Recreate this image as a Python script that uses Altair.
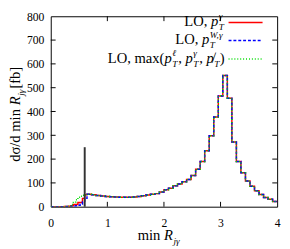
import altair as alt
import pandas as pd

# ---------------- data ----------------
edges_left = [0.00, 0.24, 0.28, 0.32, 0.36, 0.40, 0.44, 0.48, 0.52, 0.56, 0.60]
red_left   = [0, 1, 1, 2, 4, 9, 9, 18, 18, 35, 50]
blue_left  = [0, 0, 1, 1, 2, 3, 4, 6, 10, 20, 35]
green_left = [0, 1, 2, 3, 9, 18, 29, 40, 44, 48, 50]

edges_main = [0.64, 0.72, 0.80, 0.88, 0.96, 1.04, 1.12, 1.20, 1.28, 1.36,
              1.44, 1.52, 1.60, 1.68, 1.76, 1.84, 1.92, 2.00, 2.08, 2.16,
              2.24, 2.32, 2.40, 2.48, 2.56, 2.64, 2.72, 2.80, 2.88, 2.96,
              3.04, 3.12, 3.20, 3.28, 3.36, 3.44, 3.52, 3.60, 3.68, 3.76,
              3.84, 3.92]
main_vals = [52, 50, 47, 45, 43, 42, 41, 40, 40, 40,
             41, 43, 46, 49, 52, 55, 62, 71, 78, 88,
             95, 105, 114, 131, 157, 190, 235, 298, 377, 465,
             551, 456, 272, 190, 143, 108, 86, 67, 51, 39,
             31, 22]
x_end = 4.0

spike_x = [0.6]
spike_top = [250]

x_ticks = [0, 1, 2, 3, 4]
y_ticks = [0, 100, 200, 300, 400, 500, 600, 700, 800]

W, H = 233, 196
FONT = "Liberation Serif"
FS = 15          # text size
SS = 9.5         # sub/superscript size


def series_df(left):
    xs = edges_left + edges_main + [x_end]
    ys = left + main_vals + [main_vals[-1]]
    return pd.DataFrame({"x": xs, "y": ys})


xscale = alt.Scale(domain=[0, 4], nice=False, zero=False)
yscale = alt.Scale(domain=[0, 800], nice=False, zero=False)
xaxis = alt.Axis(values=x_ticks, title=None, grid=False, domain=False, ticks=False,
                 labelFont=FONT, labelFontSize=12, labelColor="black", labelPadding=11,
                 labelFlush=False, labelOverlap=False)
yaxis = alt.Axis(values=y_ticks, title=None, grid=False, domain=False, ticks=False,
                 labelFont=FONT, labelFontSize=12, labelColor="black", labelPadding=7,
                 labelOverlap=False)
xenc = alt.X("x:Q", scale=xscale, axis=xaxis)
yenc = alt.Y("y:Q", scale=yscale, axis=yaxis)

layers = []
styles = [
    (red_left, "#ff0000", None),
    (blue_left, "#0000ff", [3, 2]),
    (green_left, "#00dd00", [1, 2]),
]
for left, col, dash in styles:
    kw = dict(interpolate="step-after", color=col, strokeWidth=1.5, clip=True)
    if dash:
        kw["strokeDash"] = dash
    layers.append(alt.Chart(series_df(left)).mark_line(**kw).encode(x=xenc, y=yenc))

# spike
spike = pd.DataFrame({"x": spike_x, "y": [0], "y2": spike_top})
layers.append(alt.Chart(spike).mark_rule(color="#333333", strokeWidth=2)
              .encode(x=xenc, y=yenc, y2="y2:Q"))

# inward ticks
xt = pd.DataFrame({"x": x_ticks[1:-1]})
yt = pd.DataFrame({"y": y_ticks[1:-1]})
layers.append(alt.Chart(xt).mark_rule(color="black").encode(x=xenc, y=alt.value(H), y2=alt.value(H - 5)))
layers.append(alt.Chart(xt).mark_rule(color="black").encode(x=xenc, y=alt.value(0), y2=alt.value(5)))
layers.append(alt.Chart(yt).mark_rule(color="black").encode(y=yenc, x=alt.value(0), x2=alt.value(5)))
layers.append(alt.Chart(yt).mark_rule(color="black").encode(y=yenc, x=alt.value(W - 5), x2=alt.value(W)))

# ---------------- text layout helpers ----------------
WN = {'L': .611, 'O': .722, ',': .25, ' ': .25, 'm': .778, 'a': .444, 'x': .5, '(': .333,
      ')': .333, 'i': .278, 'n': .5, 'd': .5, '/': .278, '[': .333, ']': .333, 'f': .333,
      'b': .5, 'σ': .55}
WI = {'p': .5, 'T': .556, 'R': .611, 'j': .278, 'γ': .45, 'W': .833, 'ℓ': .42, ',': .25,
      '\u0338': 0.0}


def tw(s, italic, size):
    d = WI if italic else WN
    return sum(d.get(c, .5) for c in s) * size


def lay(pieces):
    """return list of (text, italic, size, along, perp) and total width"""
    out, pos = [], 0.0
    for p in pieces:
        k = p[0]
        if k == "n":
            out.append((p[1], False, FS, pos, 0.0)); pos += tw(p[1], False, FS)
        elif k == "i":
            out.append((p[1], True, FS, pos, 0.0)); pos += tw(p[1], True, FS) + 0.5
        elif k == "sb":
            out.append((p[1], True, SS, pos, 4.0)); pos += tw(p[1], True, SS) + 0.5
        elif k == "ss":
            out.append((p[1], True, SS, pos, 4.0))
            out.append((p[2], True, SS, pos, -6.5))
            pos += max(tw(p[1], True, SS), tw(p[2], True, SS)) + 0.8
    return out, pos


one = pd.DataFrame({"a": [0]})


def text_layer(t, italic, size, x, y, angle=0):
    return alt.Chart(one).mark_text(
        text=t, font=FONT, fontSize=size, fontStyle="italic" if italic else "normal",
        align="left", baseline="alphabetic", angle=angle, color="black"
    ).encode(x=alt.value(x), y=alt.value(y))


def hrow(pieces, x_right, y_base):
    items, total = lay(pieces)
    x0 = x_right - total
    return [text_layer(t, it, sz, x0 + a, y_base + p) for t, it, sz, a, p in items]


# legend
legend_rows = [
    [("n", "LO, "), ("i", "p"), ("ss", "T", "γ")],
    [("n", "LO, "), ("i", "p"), ("ss", "T", "W,γ")],
    [("n", "LO, max("), ("i", "p"), ("ss", "T", "ℓ"), ("n", ", "), ("i", "p"),
     ("ss", "T", "γ"), ("n", ", "), ("i", "p\u0338"), ("sb", "T"), ("n", ")")],
]
row_base = [9.7, 28.7, 47.7]
row_line = [6.3, 25.0, 44.0]
line_styles = [("#ff0000", None), ("#0000ff", [3, 2]), ("#00dd00", [1, 2])]
for pcs, yb, yl, (col, dash) in zip(legend_rows, row_base, row_line, line_styles):
    layers += hrow(pcs, 179, yb)
    kw = dict(color=col, strokeWidth=1.5)
    if dash:
        kw["strokeDash"] = dash
    layers.append(alt.Chart(one).mark_rule(**kw).encode(
        x=alt.value(183), x2=alt.value(218), y=alt.value(yl)))

# x title
xt_items, _ = lay([("n", "min "), ("i", "R"), ("sb", "jγ")])
for t, it, sz, a, p in xt_items:
    layers.append(text_layer(t, it, sz, 89.5 + a, 230.5 + p))

# y title (rotated, reading upward)
yt_items, ytot = lay([("n", "dσ/d min "), ("i", "R"), ("sb", "jγ"), ("n", " [fb]")])
y_start = 99 + ytot / 2
bx = -32
for t, it, sz, a, p in yt_items:
    layers.append(text_layer(t, it, sz, bx + p, y_start - a, angle=270))

chart = alt.layer(*layers).properties(
    width=W, height=H,
    autosize=alt.AutoSizeParams(type="none"),
    padding={"left": 44, "top": 5, "right": 5, "bottom": 40},
    background="white",
).configure_view(stroke="black", strokeWidth=1)

chart.save("out.html", embed_options={"renderer": "svg", "actions": False})
